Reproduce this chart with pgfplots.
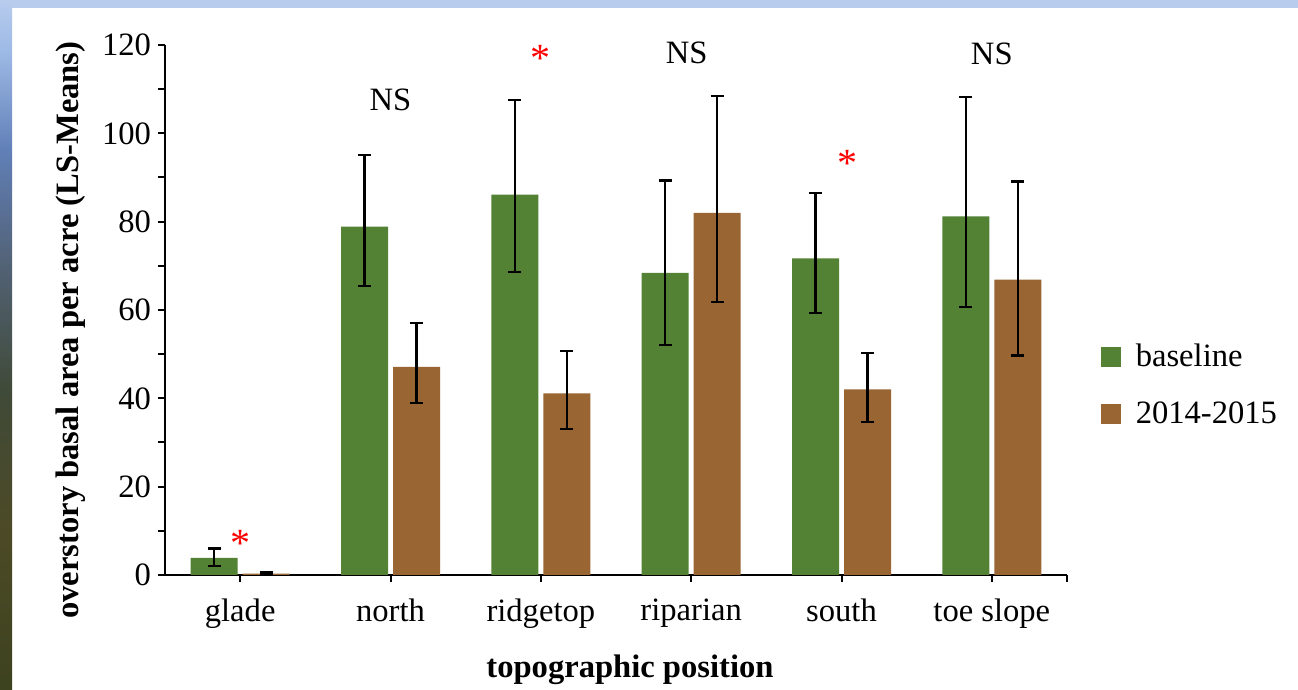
\documentclass[border=0pt]{standalone}
\usepackage{pgfplots}
\pgfplotsset{compat=1.18}
\usepackage{fontspec}
\setmainfont{Liberation Serif}
\definecolor{cgreen}{RGB}{84,130,53}
\definecolor{cbrown}{RGB}{153,102,51}
\definecolor{skyA}{RGB}{184,204,238}
\pgfdeclareverticalshading{bgstrip}{100bp}{
  rgb(0bp)=(0.24,0.26,0.12);
  rgb(25bp)=(0.24,0.26,0.12);
  rgb(36.6bp)=(0.30,0.29,0.15);
  rgb(46.7bp)=(0.25,0.29,0.22);
  rgb(55.4bp)=(0.32,0.38,0.45);
  rgb(64.1bp)=(0.38,0.50,0.72);
  rgb(71.4bp)=(0.62,0.73,0.90);
  rgb(75bp)=(0.72,0.80,0.93);
  rgb(100bp)=(0.72,0.80,0.93)}
\begin{document}
\begin{tikzpicture}
\useasboundingbox (0,0) rectangle (649pt,345pt);
\fill[white] (0,0) rectangle (649pt,345pt);
\path[shading=bgstrip] (0,0) rectangle (6pt,345pt);
\fill[skyA] (6pt,341pt) rectangle (649pt,345pt);
\begin{axis}[
  at={(82.5pt,57.5pt)}, anchor=south west,
  scale only axis, width=451pt, height=265pt,
  font=\fontsize{16.3}{19}\selectfont,
  /pgf/number format/assume math mode=true,
  axis lines*=left,
  axis line style={line width=1pt, black},
  xmin=-0.5, xmax=5.5, ymin=0, ymax=120,
  xtick={0,1,2,3,4,5,5.5},
  xticklabels={glade,north,ridgetop,riparian,south,toe slope,},
  ytick={0,20,...,120},
  minor ytick={10,30,...,110},
  tick align=outside,
  major tick length=3.5pt, minor tick length=3.5pt,
  tick style={line width=1pt, black},
  every tick/.style={line width=1pt, black},
  minor tick style={line width=1pt, black},
  xticklabel style={yshift=-5pt},
  ylabel={\bfseries overstory basal area per acre (LS-Means)},
  xlabel={\bfseries topographic position},
  ylabel style={at={(axis description cs:-0.105,0.462)}, anchor=center, rotate=0},
  xlabel style={at={(axis description cs:0.5155,-0.179)}, anchor=center},
  clip=false,
  ybar, bar width=23.5pt,
  legend style={at={(1.037,0.358)}, anchor=west, draw=none, fill=none,
    inner sep=0pt, row sep=12pt, font=\fontsize{16.3}{19}\selectfont},
  legend cell align=left,
  legend image code/.code={\fill[#1] (0pt,-5pt) rectangle (10pt,5pt); \path (15.5pt,0pt);},
  error bars/y dir=both, error bars/y explicit,
  error bars/error bar style={line width=1.1pt, black},
  error bars/error mark options={rotate=90, mark size=3.3pt, line width=1.1pt, black},
]
\addplot[fill=cgreen, draw=none, bar shift=-13pt] coordinates {
  (0,3.9)  += (0,2.1)  -= (0,1.9)
  (1,78.9) += (0,16.2) -= (0,13.4)
  (2,86.1) += (0,21.5) -= (0,17.5)
  (3,68.4) += (0,20.9) -= (0,16.4)
  (4,71.7) += (0,14.8) -= (0,12.4)
  (5,81.2) += (0,27.0) -= (0,20.6)
};
\addlegendentry{baseline}
\addplot[fill=cbrown, draw=none, bar shift=13pt] coordinates {
  (0,0.3)  += (0,0.3)  -= (0,0.2)
  (1,47.1) += (0,9.9)  -= (0,8.1)
  (2,41.1) += (0,9.7)  -= (0,8.1)
  (3,82.0) += (0,26.4) -= (0,20.2)
  (4,42.0) += (0,8.3)  -= (0,7.3)
  (5,66.9) += (0,22.2) -= (0,17.2)
};
\addlegendentry{2014-2015}
\node[font=\fontsize{16.3}{19}\selectfont] at (axis cs:1,107.6) {NS};
\node[font=\fontsize{16.3}{19}\selectfont] at (axis cs:2.97,118.3) {NS};
\node[font=\fontsize{16.3}{19}\selectfont] at (axis cs:5,118.0) {NS};
\node[text=red, font=\fontsize{20}{22}\selectfont, yshift=-4pt] at (axis cs:0,8.9) {*};
\node[text=red, font=\fontsize{20}{22}\selectfont, yshift=-4pt] at (axis cs:2,118.8) {*};
\node[text=red, font=\fontsize{20}{22}\selectfont, yshift=-4pt] at (axis cs:4.04,95.0) {*};
\end{axis}
\end{tikzpicture}
\end{document}
